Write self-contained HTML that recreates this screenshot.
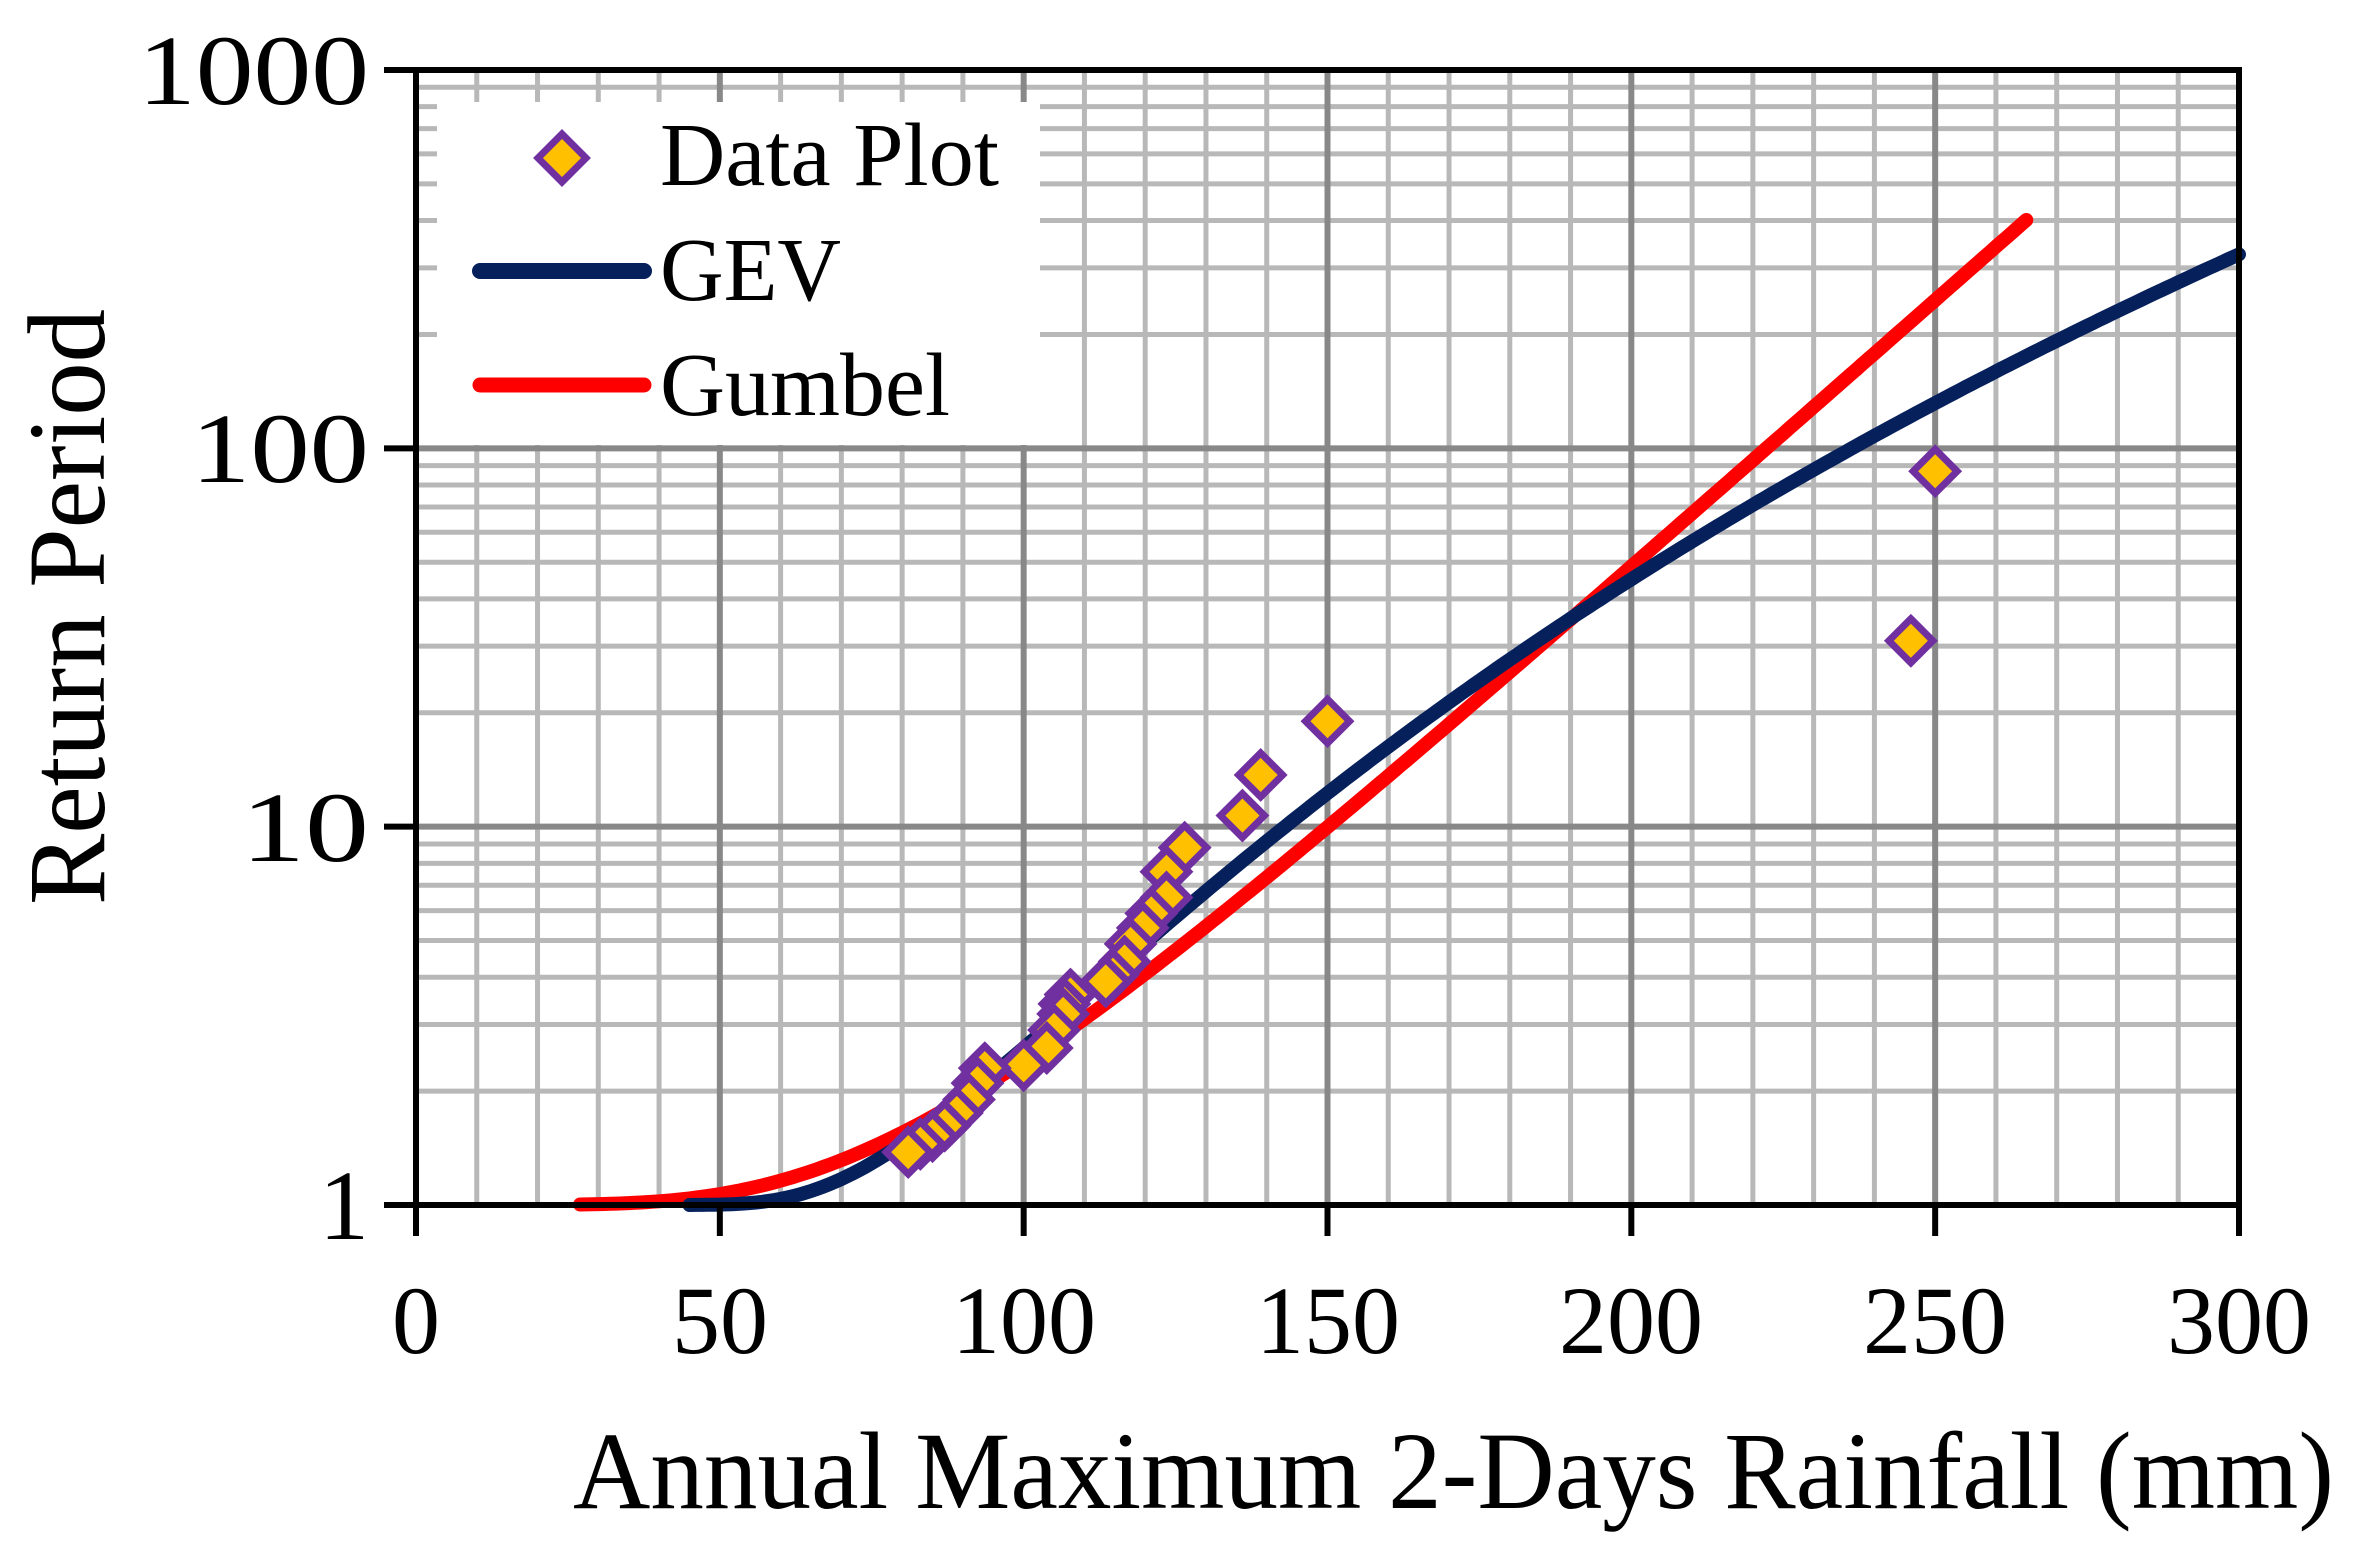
<!DOCTYPE html>
<html><head><meta charset="utf-8"><style>
html,body{margin:0;padding:0;background:#fff;}
svg{display:block;}
text{font-family:"Liberation Serif",serif;fill:#000;}
</style></head><body>
<svg id="s" width="2357" height="1568" viewBox="0 0 2357 1568" xmlns="http://www.w3.org/2000/svg">
<rect width="2357" height="1568" fill="#fff"/>
<g id="grid"></g>
<rect x="437" y="102" width="603" height="343" fill="#fff"/>
<path id="gum" d="" fill="none" stroke="#ff0000" stroke-width="14" stroke-linecap="round"/>
<path id="gev" d="" fill="none" stroke="#06205c" stroke-width="14" stroke-linecap="round"/>
<g id="pts"></g>
<g id="axes"></g>
<polygon points="562,134 586,158 562,182 538,158" fill="#ffc000" stroke="#7030a0" stroke-width="7"/>
<text x="660" y="185" font-size="90" textLength="339" lengthAdjust="spacingAndGlyphs">Data Plot</text>
<line x1="480" y1="271" x2="644" y2="271" stroke="#06205c" stroke-width="16" stroke-linecap="round"/>
<text x="660" y="300" font-size="90" textLength="181" lengthAdjust="spacingAndGlyphs">GEV</text>
<line x1="480" y1="385" x2="644" y2="385" stroke="#ff0000" stroke-width="15" stroke-linecap="round"/>
<text x="660" y="415" font-size="90" textLength="290" lengthAdjust="spacingAndGlyphs">Gumbel</text>
<g font-size="100" text-anchor="end">
<text x="369" y="104" textLength="231" lengthAdjust="spacingAndGlyphs">1000</text>
<text x="369" y="482" textLength="178" lengthAdjust="spacingAndGlyphs">100</text>
<text x="369" y="861" textLength="128" lengthAdjust="spacingAndGlyphs">10</text>
<text x="369" y="1239">1</text>
</g>
<g font-size="96" text-anchor="middle">
<text x="416" y="1353">0</text>
<text x="720" y="1353">50</text>
<text x="1024" y="1353">100</text>
<text x="1328" y="1353">150</text>
<text x="1631" y="1353">200</text>
<text x="1935" y="1353">250</text>
<text x="2239" y="1353">300</text>
</g>
<text x="573" y="1508" font-size="110" textLength="1761" lengthAdjust="spacingAndGlyphs">Annual Maximum 2-Days Rainfall (mm)</text>
<text transform="translate(104,607) rotate(-90)" text-anchor="middle" font-size="110" textLength="596" lengthAdjust="spacingAndGlyphs">Return Period</text>
</svg>
<script>
var X0=416,X1=2239,Y1=1205,DEC=(1205-70)/3;
function px(v){return X0+(X1-X0)*v/300;}
function py(T){return Y1-DEC*Math.log10(T);}
var ns="http://www.w3.org/2000/svg";
function el(tag,attrs,parent){var e=document.createElementNS(ns,tag);for(var k in attrs)e.setAttribute(k,attrs[k]);parent.appendChild(e);return e;}
var g=document.getElementById('grid');
for(var v=10;v<300;v+=10){if(v%50==0)continue;el('line',{x1:px(v),x2:px(v),y1:70,y2:1205,stroke:'#b8b8b8','stroke-width':5},g);}
for(var d=0;d<3;d++)for(var m=2;m<=9;m++){var y=py(m*Math.pow(10,d));el('line',{x1:416,x2:2239,y1:y,y2:y,stroke:'#b8b8b8','stroke-width':5},g);}
for(var v=50;v<300;v+=50)el('line',{x1:px(v),x2:px(v),y1:70,y2:1205,stroke:'#888','stroke-width':6},g);
[10,100].forEach(function(T){var y=py(T);el('line',{x1:416,x2:2239,y1:y,y2:y,stroke:'#888','stroke-width':6},g);});
var a=document.getElementById('axes');
el('rect',{x:416,y:70,width:1823,height:1135,fill:'none',stroke:'#000','stroke-width':6},a);
for(var v=0;v<=300;v+=50)el('line',{x1:px(v),x2:px(v),y1:1205,y2:1236,stroke:'#000','stroke-width':6},a);
[1,10,100,1000].forEach(function(T){var y=py(T);el('line',{x1:384,x2:416,y1:y,y2:y,stroke:'#000','stroke-width':6},a);});
var d1='';for(var x=27;x<=265;x+=1){var yv=(x-81)/30.7;var F=Math.exp(-Math.exp(-yv));var T=1/(1-F);d1+=(x==27?'M':'L')+px(x).toFixed(1)+','+py(T).toFixed(1);}
document.getElementById('gum').setAttribute('d',d1);
var d2='',k=0.1753,c=4.815;var first=true;
for(var x=45;x<=300;x+=1){var yv=(Math.log(x+40)-c)/k;var F=Math.exp(-Math.exp(-yv));var T=1/(1-F);if(T<1)T=1;d2+=(first?'M':'L')+px(x).toFixed(1)+','+py(T).toFixed(1);first=false;}
document.getElementById('gev').setAttribute('d',d2);
var P=[[250,87],[246,31],[150,19],[139,13.7],[136,10.7],[126.5,8.8],[123.5,7.6],[123.5,6.5],[121,5.9],[119.6,5.4],[117.6,4.9],[116.6,4.4],[114.7,4.06],[113.5,3.9],[107.7,3.6],[106.7,3.4],[106.5,3.2],[105,2.9],[103.8,2.6],[100,2.34],[93.6,2.3],[92.4,2.1],[91,1.9],[89,1.75],[87,1.62],[85,1.52],[83,1.45],[81,1.38]];
var pg=document.getElementById('pts');
P.forEach(function(p){var x=px(p[0]),y=py(p[1]);el('polygon',{points:x+','+(y-22)+' '+(x+22)+','+y+' '+x+','+(y+22)+' '+(x-22)+','+y,fill:'#ffc000',stroke:'#7030a0','stroke-width':7},pg);});
</script>
</body></html>
